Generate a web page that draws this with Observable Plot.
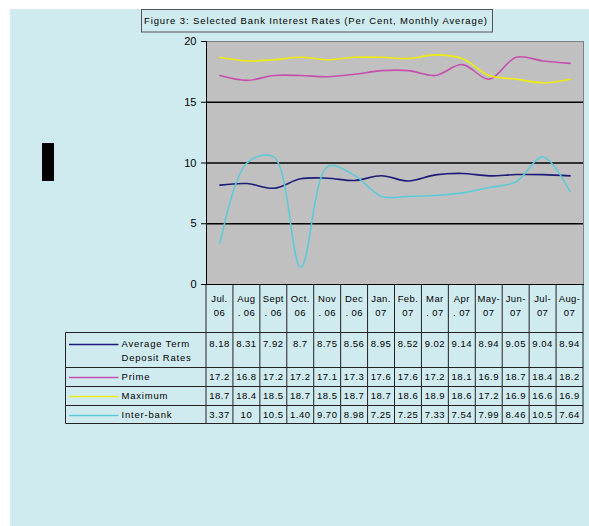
<!DOCTYPE html>
<html><head><meta charset="utf-8">
<script src="https://cdn.jsdelivr.net/npm/d3@7"></script>
<script src="https://cdn.jsdelivr.net/npm/@observablehq/plot@0.6"></script>
<style>
html,body{margin:0;padding:0;background:#fff;}
#wrap{position:relative;width:589px;height:526px;overflow:hidden;}
#bg{position:absolute;left:10px;top:9px;width:579px;height:517px;background:#cfebf0;}
#chart{position:absolute;left:0;top:0;}
</style></head><body>
<div id="wrap"><div id="bg"></div><div id="chart"></div></div>
<script>
const titleText = "Figure 3: Selected Bank Interest Rates (Per Cent, Monthly Average)";
const months = ["Jul. 06","Aug. 06","Sept. 06","Oct. 06","Nov. 06","Dec. 06","Jan. 07","Feb. 07","Mar. 07","Apr. 07","May-07","Jun-07","Jul-07","Aug-07"];
const monthLine1 = ["Jul.","Aug","Sept","Oct.","Nov","Dec","Jan.","Feb.","Mar","Apr","May-","Jun-","Jul-","Aug-"];
const monthLine2 = ["06",". 06",". 06","06",". 06",". 06","07","07",". 07",". 07","07","07","07","07"];
const seriesNames = ["Average Term Deposit Rates","Prime","Maximum","Inter-bank"];
const legendLines = [["Average Term","Deposit Rates"],["Prime"],["Maximum"],["Inter-bank"]];
const avgTerm   = [8.18,8.31,7.92,8.7,8.75,8.56,8.95,8.52,9.02,9.14,8.94,9.05,9.04,8.94];
const prime     = [17.2,16.8,17.2,17.2,17.1,17.3,17.6,17.6,17.2,18.1,16.9,18.7,18.4,18.2];
const maximum   = [18.7,18.4,18.5,18.7,18.5,18.7,18.7,18.6,18.9,18.6,17.2,16.9,16.6,16.9];
const interbank = [3.37,10,10.5,1.40,9.70,8.98,7.25,7.25,7.33,7.54,7.99,8.46,10.5,7.64];
const avgTermLabels   = ["8.18","8.31","7.92","8.7","8.75","8.56","8.95","8.52","9.02","9.14","8.94","9.05","9.04","8.94"];
const primeLabels     = ["17.2","16.8","17.2","17.2","17.1","17.3","17.6","17.6","17.2","18.1","16.9","18.7","18.4","18.2"];
const maximumLabels   = ["18.7","18.4","18.5","18.7","18.5","18.7","18.7","18.6","18.9","18.6","17.2","16.9","16.6","16.9"];
const interbankLabels = ["3.37","10","10.5","1.40","9.70","8.98","7.25","7.25","7.33","7.54","7.99","8.46","10.5","7.64"];
const yTicks = [0,5,10,15,20];
const colors = ["#1c1c78","#c64fae","#ecec10","#5ecad8"];

const seriesValues = [avgTerm, prime, maximum, interbank];
const seriesLabels = [avgTermLabels, primeLabels, maximumLabels, interbankLabels];
const data = [];
seriesNames.forEach((s,i)=>seriesValues[i].forEach((v,j)=>data.push({series:s, month:months[j], value:v})));

const FONT = "'Liberation Sans', Arial, sans-serif";
const chart = Plot.plot({
  width:589, height:526,
  marginLeft:206, marginRight:6, marginTop:41, marginBottom:242,
  style:{background:"transparent", fontFamily:FONT, fontSize:"11px", color:"#000", overflow:"visible"},
  x:{type:"point", domain:months, padding:0.5, round:false, axis:null},
  y:{domain:[0,20], label:null, axis:null},
  color:{domain:seriesNames, range:colors},
  marks:[
    Plot.frame({fill:"#c0c0c0", stroke:"#808080"}),
    Plot.ruleY([5,10,15], {stroke:"#000", strokeWidth:1.4}),
    Plot.line(data,{x:"month", y:"value", stroke:"series", z:"series", curve:"catmull-rom", strokeWidth:1.6}),
    Plot.frame({anchor:"left", stroke:"#000"}),
    Plot.frame({anchor:"bottom", stroke:"#000"}),
    Plot.axisY(yTicks, {tickSize:5, tickPadding:5, label:null, fontSize:11, stroke:"#000"})
  ]
});
document.getElementById("chart").appendChild(chart);

const svg = d3.select(chart);
const xs = chart.scale("x");
const step = xs.apply(months[1]) - xs.apply(months[0]);
const colLeft = xs.apply(months[0]) - step/2;
const colRight = xs.apply(months[months.length-1]) + step/2;
const headerTop = 284, tableTop = 332.5, tableLeft = 65.5;
const rowBounds = [332.5, 367.5, 386.5, 405.5, 423.5];
const rowTextY = [344.5, 377.5, 396.5, 415.5];
const g = svg.append("g").attr("font-family", FONT).attr("fill", "#000");
const lineColor = "#222";

// title box
g.append("rect").attr("x",141.5).attr("y",9.5).attr("width",351).attr("height",22.5)
  .attr("fill","none").attr("stroke","#555");
g.append("text").attr("x",144).attr("y",21).attr("text-anchor","start").attr("dominant-baseline","middle")
  .attr("font-size",9.5).attr("textLength",343).attr("lengthAdjust","spacing").text(titleText);

// black block (axis title remnant)
g.append("rect").attr("x",42).attr("y",143).attr("width",12).attr("height",38).attr("fill","#000");

// vertical column lines
const bounds = d3.range(months.length+1).map(k=>colLeft + k*step);
bounds.forEach(b=>g.append("line").attr("x1",b).attr("x2",b).attr("y1",headerTop).attr("y2",rowBounds[4]).attr("stroke",lineColor));
g.append("line").attr("x1",tableLeft).attr("x2",tableLeft).attr("y1",tableTop).attr("y2",rowBounds[4]).attr("stroke",lineColor);
rowBounds.forEach(y=>g.append("line").attr("x1",tableLeft).attr("x2",colRight).attr("y1",y).attr("y2",y).attr("stroke",lineColor));

// header
months.forEach((m,j)=>{
  const cx = xs.apply(m);
  g.append("text").attr("x",cx).attr("y",299.5).attr("text-anchor","middle").attr("dominant-baseline","middle")
    .attr("font-size",9.5).attr("letter-spacing",0.4).text(monthLine1[j]);
  g.append("text").attr("x",cx).attr("y",313.5).attr("text-anchor","middle").attr("dominant-baseline","middle")
    .attr("font-size",9.5).attr("letter-spacing",0.4).text(monthLine2[j]);
});

// rows
seriesNames.forEach((s,i)=>{
  g.append("line").attr("x1",69).attr("x2",118.5).attr("y1",rowTextY[i]).attr("y2",rowTextY[i])
    .attr("stroke",colors[i]).attr("stroke-width",1.6);
  legendLines[i].forEach((t,k)=>{
    g.append("text").attr("x",121.5).attr("y",rowTextY[i]+k*14).attr("text-anchor","start").attr("dominant-baseline","middle")
      .attr("font-size",9.5).attr("letter-spacing",0.8).text(t);
  });
  seriesLabels[i].forEach((t,j)=>{
    g.append("text").attr("x",xs.apply(months[j])).attr("y",rowTextY[i]).attr("text-anchor","middle")
      .attr("dominant-baseline","middle").attr("font-size",9.5).attr("letter-spacing",0.5).text(t);
  });
});
</script>
</body></html>
